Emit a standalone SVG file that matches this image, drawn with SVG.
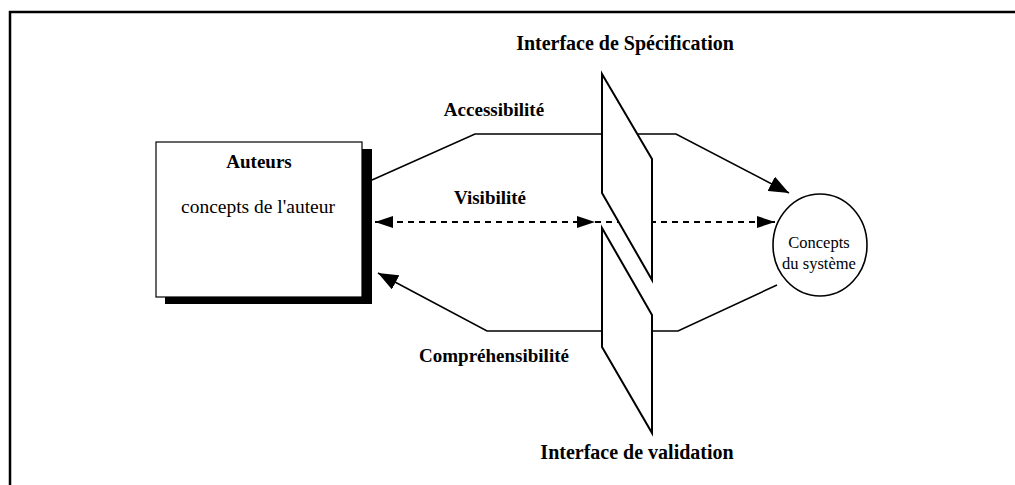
<svg xmlns="http://www.w3.org/2000/svg" width="1015" height="485" viewBox="0 0 1015 485">
<style>
.ln{fill:none;stroke:#000;stroke-width:1.6}
.dash{fill:none;stroke:#000;stroke-width:1.8;stroke-dasharray:6 5}
.b{font-family:"Liberation Serif",serif;font-weight:bold;font-size:19px;fill:#000}
.t{font-family:"Liberation Serif",serif;font-weight:bold;font-size:20px;fill:#000}
.r{font-family:"Liberation Serif",serif;font-size:19.5px;fill:#000}
.s{font-family:"Liberation Serif",serif;font-size:16.5px;fill:#000}
.panel{fill:#fff;stroke:#000;stroke-width:2}
</style>
<defs>
<marker id="ahb" markerWidth="20" markerHeight="16" viewBox="0 0 20 16" refX="20" refY="8" orient="auto" markerUnits="userSpaceOnUse">
<path d="M0,0 L20,8 L0,16 z" fill="#000"/>
</marker>
<marker id="ahd" markerWidth="18" markerHeight="12" viewBox="0 0 18 12" refX="18" refY="6" orient="auto-start-reverse" markerUnits="userSpaceOnUse">
<path d="M0,0 L18,6 L0,12 z" fill="#000"/>
</marker>
</defs>
<g id="frame">
<path d="M10,485 L10,12 L1015,12" fill="none" stroke="#000" stroke-width="2.5"/>
</g>
<g id="connectors">
<path class="ln" d="M372,180 L475,134 L676,134 L789,193" marker-end="url(#ahb)"/>
<path class="dash" d="M375,222 L595,222" marker-start="url(#ahd)" marker-end="url(#ahd)"/>
<path class="dash" d="M595,222 L775,222" marker-end="url(#ahd)"/>
<path class="ln" d="M777,285 L678,331 L487,331 L378,273" marker-end="url(#ahb)"/>
</g>
<g id="auteurs">
<rect x="165" y="149" width="207" height="155" fill="#000"/>
<rect x="156" y="142" width="206" height="155" fill="#fff" stroke="#000" stroke-width="1.2"/>
<text class="b" x="259" y="168" text-anchor="middle">Auteurs</text>
<text class="r" x="258" y="213" text-anchor="middle">concepts de l'auteur</text>
</g>
<g id="interface-specification">
<polygon class="panel" points="602,74 652,159 652,280 602,193"/>
<text class="t" x="625" y="50" text-anchor="middle">Interface de Spécification</text>
</g>
<g id="interface-validation">
<polygon class="panel" points="602,228 652,315 652,433 602,347"/>
<text class="t" x="637" y="459" text-anchor="middle">Interface de validation</text>
</g>
<g id="concepts-systeme">
<ellipse cx="820" cy="245" rx="47" ry="51" fill="#fff" stroke="#000" stroke-width="1.6"/>
<text class="s" x="819" y="248" text-anchor="middle">Concepts</text>
<text class="s" x="819" y="269" text-anchor="middle">du système</text>
</g>
<g id="labels">
<text class="b" x="494" y="116" text-anchor="middle">Accessibilité</text>
<text class="b" x="490" y="204" text-anchor="middle">Visibilité</text>
<text class="b" x="494" y="362" text-anchor="middle">Compréhensibilité</text>
</g>
</svg>
